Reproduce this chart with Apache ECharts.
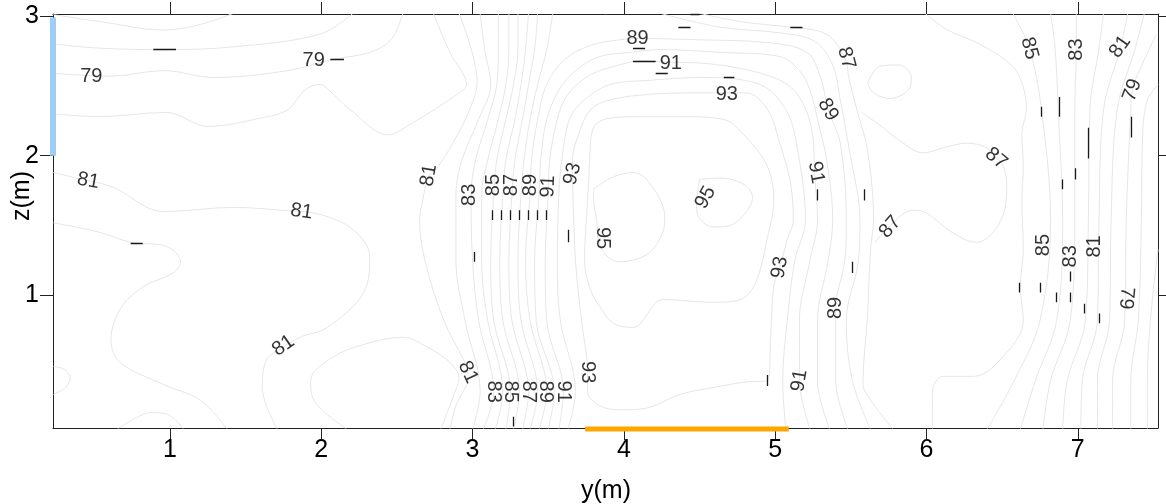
<!DOCTYPE html>
<html><head><meta charset="utf-8">
<script src="https://cdn.jsdelivr.net/npm/echarts@6/dist/echarts.min.js"></script>
<style>html,body{margin:0;padding:0;background:#fff}#c{width:1166px;height:504px}</style>
</head><body><div id="c"></div>
<script>
// ---- axes ----
const xTicks = [1, 2, 3, 4, 5, 6, 7];
const zTicks = [1, 2, 3];
const xRange = [0.227, 7.53];
const zRange = [0.05, 3.015];

// ---- contour lines (y(m), z(m)) ----
const lineA = [[0.23,3.01],[0.54,2.96],[0.96,2.90],[1.20,2.94],[1.42,3.02]];
const lineB = [[0.23,2.80],[0.54,2.77],[0.98,2.76],[1.42,2.78],[1.99,2.87],[2.21,3.02]];
const line79 = [[0.23,2.59],[0.61,2.57],[0.96,2.61],[1.29,2.56],[1.78,2.61],[2.08,2.69],[2.32,2.74],[2.46,2.83],[2.54,3.02]];
const line80 = [[0.23,2.30],[0.52,2.28],[0.98,2.31],[1.25,2.21],[1.60,2.27],[1.78,2.33],[1.89,2.47],[1.99,2.51],[2.09,2.43],[2.19,2.33],[2.44,2.15],[2.61,2.24],[2.87,2.42],[2.96,2.51],[2.85,2.74],[2.74,3.02]];
const line81L = [[0.23,1.88],[0.38,1.84],[0.61,1.78],[0.96,1.60],[1.42,1.63],[1.73,1.61],[1.99,1.58],[2.21,1.47],[2.32,1.28],[2.28,1.02],[2.04,0.77],[1.86,0.70],[1.75,0.63],[1.64,0.54],[1.61,0.34],[1.71,0.04]];
const line81M = [[2.91,3.02],[3.03,2.53],[2.98,2.33],[2.87,2.09],[2.77,1.92],[2.71,1.85],[2.67,1.68],[2.65,1.54],[2.69,1.23],[2.81,0.82],[2.94,0.54],[2.97,0.45],[2.96,0.36],[2.89,0.21],[2.85,0.04]];
const lineF = [[0.23,1.52],[0.54,1.45],[0.74,1.38],[0.98,1.35],[1.07,1.24],[1.02,1.16],[0.82,1.06],[0.67,0.90],[0.61,0.68],[0.67,0.52],[0.96,0.36],[1.20,0.25],[1.38,0.04]];
const lineG = [[0.23,0.49],[0.30,0.47],[0.34,0.41],[0.31,0.34],[0.23,0.29]];
const lineH = [[0.65,0.04],[0.77,0.12],[0.87,0.16],[0.98,0.15],[1.09,0.04]];
const lineI = [[2.17,0.04],[1.95,0.25],[1.93,0.39],[2.08,0.56],[2.32,0.66],[2.54,0.70],[2.70,0.63],[2.85,0.52],[2.91,0.41],[2.87,0.27],[2.79,0.04]];

// steep band (levels 82..88), x read at these z
const bandZ  = [3.02, 2.76, 2.51, 2.26, 1.97, 1.72, 1.25, 0.82, 0.31, 0.04];
const band82 = [3.05,3.08,3.12,3.04,2.93,2.89,2.89,2.95,3.05,3.00];
const band83 = [3.17,3.17,3.16,3.10,3.02,2.99,3.00,3.04,3.14,3.07];
const band84 = [3.24,3.24,3.22,3.17,3.10,3.06,3.06,3.10,3.20,3.15];
const band85 = [3.30,3.30,3.27,3.22,3.16,3.14,3.12,3.14,3.25,3.22];
const band86 = [3.37,3.35,3.32,3.28,3.22,3.20,3.18,3.20,3.31,3.27];
const band87 = [3.43,3.41,3.37,3.33,3.28,3.26,3.24,3.26,3.37,3.33];
const band88 = [3.53,3.49,3.43,3.38,3.34,3.32,3.30,3.32,3.43,3.38];

const arch89 = [[3.44,0.04],[3.49,0.31],[3.38,0.82],[3.35,1.25],[3.38,1.72],[3.39,1.97],[3.43,2.26],[3.49,2.51],[3.61,2.69],[3.78,2.79],[3.97,2.83],[4.11,2.84],[4.50,2.83],[4.95,2.81],[5.21,2.74],[5.30,2.56],[5.35,2.33],[5.43,2.09],[5.47,1.54],[5.46,1.25],[5.40,0.91],[5.40,0.39],[5.48,0.04]];
const arch90 = [[3.50,0.04],[3.54,0.31],[3.42,0.82],[3.41,1.25],[3.44,1.72],[3.45,1.97],[3.49,2.26],[3.57,2.47],[3.68,2.61],[3.84,2.71],[4.04,2.74],[4.24,2.76],[4.64,2.74],[5.03,2.71],[5.16,2.61],[5.23,2.47],[5.28,2.26],[5.34,1.97],[5.38,1.54],[5.35,1.25],[5.28,0.82],[5.28,0.39],[5.36,0.04]];
const arch91 = [[3.57,0.04],[3.60,0.31],[3.49,0.82],[3.48,1.25],[3.50,1.72],[3.51,1.97],[3.56,2.26],[3.63,2.44],[3.78,2.58],[3.97,2.65],[4.11,2.68],[4.29,2.67],[4.55,2.66],[4.99,2.56],[5.16,2.42],[5.25,2.13],[5.26,1.88],[5.28,1.54],[5.23,1.25],[5.16,0.82],[5.16,0.39],[5.23,0.04]];
const arch92 = [[3.63,0.04],[3.68,0.31],[3.58,0.82],[3.56,1.25],[3.57,1.72],[3.59,1.97],[3.64,2.26],[3.74,2.40],[3.91,2.51],[4.17,2.54],[4.50,2.56],[4.90,2.51],[5.07,2.33],[5.14,2.09],[5.20,1.54],[5.13,1.25],[5.08,0.82],[5.05,0.39],[5.07,0.04]];
const loop93 = [[3.66,1.86],[3.68,1.25],[3.72,0.82],[3.76,0.45],[3.76,0.31],[3.84,0.21],[3.97,0.18],[4.14,0.19],[4.37,0.29],[4.59,0.34],[4.81,0.38],[4.95,0.39],[4.97,0.70],[4.99,1.06],[5.03,1.20],[5.08,1.40],[5.12,1.54],[5.10,1.81],[5.03,2.09],[4.95,2.33],[4.81,2.45],[4.69,2.45],[4.50,2.45],[4.17,2.44],[3.91,2.40],[3.78,2.33],[3.70,2.15],[3.66,1.97],[3.66,1.86]];
const loop94 = [[3.78,2.11],[3.81,2.22],[3.91,2.27],[4.11,2.28],[4.37,2.28],[4.66,2.26],[4.81,2.13],[4.95,1.92],[4.99,1.68],[4.95,1.42],[4.87,1.09],[4.77,0.97],[4.59,0.95],[4.26,0.97],[4.06,0.77],[3.93,0.80],[3.84,0.92],[3.78,1.04],[3.74,1.25],[3.76,1.68],[3.78,2.11]];
const loop95a = [[3.80,1.76],[3.91,1.84],[4.06,1.88],[4.15,1.83],[4.26,1.63],[4.27,1.53],[4.24,1.41],[4.15,1.29],[3.97,1.24],[3.88,1.29],[3.83,1.40],[3.82,1.54],[3.80,1.68],[3.80,1.76]];
const loop95b = [[4.50,1.83],[4.64,1.84],[4.80,1.79],[4.85,1.70],[4.81,1.60],[4.70,1.50],[4.59,1.49],[4.50,1.55],[4.48,1.65],[4.50,1.83]];
const right88 = [[4.24,3.02],[4.64,2.92],[5.03,2.88],[5.26,2.82],[5.38,2.65],[5.43,2.40],[5.49,2.04],[5.56,1.54],[5.55,1.25],[5.47,0.82],[5.51,0.39],[5.63,0.04]];
const right87 = [[4.50,3.02],[4.77,2.96],[5.10,2.92],[5.34,2.87],[5.46,2.70],[5.49,2.54],[5.54,2.33],[5.61,2.04],[5.65,1.54],[5.63,1.33],[5.61,0.85],[5.58,0.37],[5.63,0.25],[5.78,0.04]];
const plateau87 = [[5.66,1.38],[5.76,1.50],[5.91,1.61],[6.00,1.59],[6.17,1.45],[6.33,1.38],[6.44,1.45],[6.52,1.63],[6.53,1.79],[6.51,1.92],[6.47,1.98],[6.39,2.06],[6.27,2.09],[6.12,2.06],[5.98,2.02],[5.82,2.11],[5.69,2.22],[5.57,2.31]];
const smallLoop = [[5.61,2.52],[5.69,2.64],[5.82,2.65],[5.90,2.56],[5.88,2.47],[5.76,2.41],[5.65,2.45],[5.61,2.52]];
const right86 = [[5.99,3.02],[6.14,2.90],[6.35,2.80],[6.57,2.64],[6.64,2.49],[6.66,2.33],[6.63,2.16],[6.64,1.92],[6.63,1.68],[6.64,1.33],[6.62,1.06],[6.64,0.82],[6.53,0.59],[6.31,0.42],[6.11,0.42],[6.04,0.32],[6.04,0.04]];

// right-hand band (levels 85..80), x read at these z
const rightZ  = [3.02, 2.77, 2.33, 1.54, 0.82, 0.39, 0.04];
const right85 = [6.57,6.68,6.76,6.82,6.75,6.58,6.40];
const right84 = [6.82,6.85,6.87,6.90,6.86,6.72,6.62];
const right83 = [6.99,6.99,6.98,6.98,6.95,6.82,6.77];
const right82 = [7.17,7.14,7.08,7.07,7.05,6.93,6.90];
const right81 = [7.33,7.28,7.17,7.14,7.13,7.03,7.02];
const right80 = [7.44,7.38,7.26,7.22,7.21,7.13,7.13];
const right79 = [[7.52,2.87],[7.44,2.69],[7.36,2.47],[7.35,2.33],[7.32,1.54],[7.31,0.82],[7.23,0.39],[7.23,0.04]];
const right78 = [[7.53,2.51],[7.46,2.40],[7.43,2.18],[7.42,1.54],[7.40,0.82],[7.35,0.39],[7.35,0.04]];
const right77 = [[7.53,1.33],[7.48,0.82],[7.46,0.39],[7.46,0.04]];

// ---- contour labels ----
const labelText = ['79','79','81','81','81','81','83','85','87','89','91','93','95','95','89','91','93','87','89','91','93','89','91','93','81','83','85','87','89','91','87','87','85','83','81','79','85','83','81','79'];
const labelY = [0.48,1.95,0.46,1.87,1.75,2.71,2.98,3.14,3.26,3.38,3.50,3.66,3.86,4.54,4.09,4.31,4.68,5.47,5.35,5.27,5.03,5.40,5.16,3.76,2.97,3.14,3.25,3.37,3.48,3.60,5.76,6.46,6.68,6.99,7.28,7.36,6.77,6.95,7.11,7.32];
const labelZ = [2.57,2.68,1.82,1.60,0.64,1.86,1.72,1.79,1.79,1.79,1.78,1.87,1.41,1.70,2.84,2.66,2.44,2.70,2.33,1.88,1.20,0.91,0.39,0.45,0.45,0.31,0.31,0.31,0.31,0.31,1.49,1.98,2.77,2.76,2.78,2.47,1.36,1.28,1.35,0.98];
const labelAngle = [0,0,-10,-8,35,80,90,90,90,90,88,75,-90,60,0,0,0,-75,-60,-80,80,90,80,-90,-65,-90,-90,-90,-90,-90,50,-40,-75,90,55,70,90,90,90,-95];

// ---- short dashes (start/end in y(m), z(m)) ----
const dashY1 = [0.89,2.06,0.74,4.44,4.36,5.10,4.06,4.06,4.21,4.66, 3.13,3.19,3.25,3.31,3.37,3.43,3.49, 3.01,3.63,3.27,4.95,5.28,5.59,5.51, 6.76,6.88,7.07,6.98,6.90,7.35, 6.61,6.75,6.86,6.95,6.95,7.04,7.14];
const dashY2 = [1.04,2.15,0.82,4.50,4.44,5.18,4.14,4.21,4.29,4.73, 3.13,3.19,3.25,3.31,3.37,3.43,3.49, 3.01,3.63,3.27,4.95,5.28,5.59,5.51, 6.76,6.88,7.07,6.98,6.90,7.35, 6.61,6.75,6.86,6.95,6.95,7.04,7.14];
const dashZ1 = [2.76,2.69,1.37,3.01,2.92,2.92,2.77,2.68,2.59,2.56, 1.61,1.61,1.61,1.61,1.61,1.61,1.61, 1.31,1.47,0.13,0.43,1.76,1.76,1.24, 2.35,2.42,2.20,1.91,1.83,2.28, 1.09,1.09,1.02,1.17,1.02,0.94,0.87];
const dashZ2 = [2.76,2.69,1.37,3.01,2.92,2.92,2.77,2.68,2.59,2.56, 1.54,1.54,1.54,1.54,1.54,1.54,1.54, 1.24,1.38,0.06,0.35,1.68,1.68,1.16, 2.28,2.28,1.98,1.83,1.76,2.13, 1.02,1.02,0.95,1.10,0.95,0.87,0.80];

// ---- highlighted segments ----
const blueSeg = [[0.227, 2.0], [0.227, 2.99]];
const orangeSeg = [[3.744, 0.042], [5.09, 0.042]];

// ---- build ----
function fromBand(zs, xs) { return xs.map((x, i) => [x, zs[i]]); }
const contourLines = [lineA, lineB, line79, line80, line81L, line81M, lineF, lineG, lineH, lineI,
  fromBand(bandZ, band82), fromBand(bandZ, band83), fromBand(bandZ, band84), fromBand(bandZ, band85),
  fromBand(bandZ, band86), fromBand(bandZ, band87), fromBand(bandZ, band88),
  arch89, arch90, arch91, arch92, loop93, loop94, loop95a, loop95b, right88, right87, plateau87, smallLoop, right86,
  fromBand(rightZ, right85), fromBand(rightZ, right84), fromBand(rightZ, right83), fromBand(rightZ, right82),
  fromBand(rightZ, right81), fromBand(rightZ, right80), right79, right78, right77];

const FONT = '"Liberation Sans", Arial, sans-serif';
const series = contourLines.map(d => ({
  type: 'line', data: d, showSymbol: false, smooth: 0.35, silent: true, z: 1,
  lineStyle: { color: '#e6e6e6', width: 1 }
}));
series.push({
  type: 'lines', coordinateSystem: 'cartesian2d', silent: true, z: 3,
  lineStyle: { color: '#1a1a1a', width: 1.3, opacity: 1 },
  data: dashY1.map((v, i) => ({ coords: [[v, dashZ1[i]], [dashY2[i], dashZ2[i]]] }))
});
series.push({
  type: 'scatter', silent: true, z: 4, symbolSize: 1, itemStyle: { color: 'rgba(0,0,0,0)' },
  label: { show: true, position: 'inside', formatter: p => p.name, color: '#000', fontSize: 20,
    fontFamily: FONT, textBorderWidth: 0 },
  data: labelText.map((t, i) => ({ name: t, value: [labelY[i], labelZ[i]], label: { rotate: labelAngle[i] } }))
});
series.push({ type: 'line', data: blueSeg, showSymbol: false, clip: false, silent: true, z: 5,
  lineStyle: { color: '#9fcdf6', width: 6, cap: 'butt' } });
series.push({ type: 'line', data: orangeSeg, showSymbol: false, clip: false, silent: true, z: 5,
  lineStyle: { color: '#ffa500', width: 5, cap: 'butt' } });

const axisLine = { show: true, lineStyle: { color: '#222', width: 1 } };
const chart = echarts.init(document.getElementById('c'), null, { renderer: 'canvas' });
chart.setOption({
  animation: false,
  backgroundColor: '#fff',
  grid: { left: 53, right: 8, top: 14, bottom: 76, containLabel: false },
  xAxis: [
    { type: 'value', position: 'bottom', min: xRange[0], max: xRange[1], axisLine,
      splitLine: { show: false },
      axisTick: { show: true, inside: false, length: 12, customValues: xTicks, lineStyle: { color: '#222' } },
      axisLabel: { show: true, customValues: xTicks, margin: 10, fontSize: 25, color: '#000', fontFamily: FONT } },
    { type: 'value', position: 'top', min: xRange[0], max: xRange[1], axisLine,
      splitLine: { show: false },
      axisTick: { show: true, inside: false, length: 12, customValues: xTicks, lineStyle: { color: '#222' } },
      axisLabel: { show: false } }
  ],
  yAxis: [
    { type: 'value', position: 'left', min: zRange[0], max: zRange[1], axisLine,
      splitLine: { show: false },
      axisTick: { show: true, inside: false, length: 13, customValues: zTicks, lineStyle: { color: '#222' } },
      axisLabel: { show: true, customValues: zTicks, margin: 14, fontSize: 25, color: '#000', fontFamily: FONT } },
    { type: 'value', position: 'right', min: zRange[0], max: zRange[1], axisLine,
      splitLine: { show: false },
      axisTick: { show: true, inside: false, length: 10, customValues: zTicks, lineStyle: { color: '#222' } },
      axisLabel: { show: false } }
  ],
  graphic: [
    { type: 'text', x: 606, y: 491, silent: true,
      style: { text: 'y(m)', fontSize: 25, fontFamily: FONT, fill: '#000', align: 'center', verticalAlign: 'middle' } },
    { type: 'text', x: 22, y: 196, rotation: Math.PI / 2, silent: true,
      style: { text: 'z(m)', fontSize: 25, fontFamily: FONT, fill: '#000', align: 'center', verticalAlign: 'middle' } }
  ],
  series
});
</script>
</body></html>
